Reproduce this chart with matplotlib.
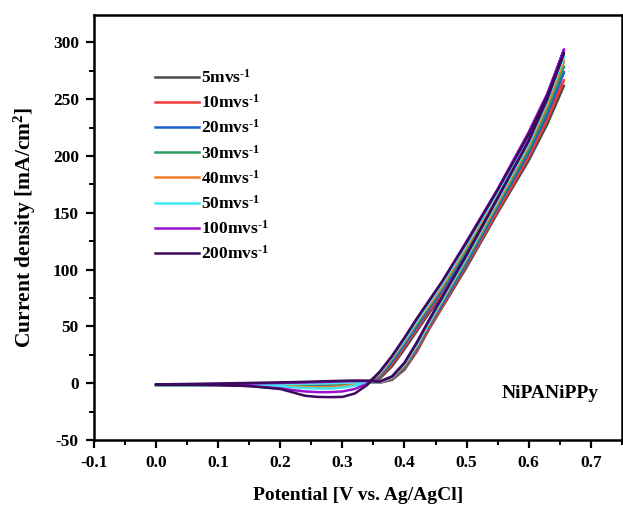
import matplotlib
matplotlib.use('Agg')
import matplotlib.pyplot as plt
from matplotlib.ticker import MultipleLocator
import numpy as np

plt.rcParams['font.family'] = ['Liberation Serif', 'DejaVu Serif']
plt.rcParams['font.weight'] = 'bold'
plt.rcParams['axes.unicode_minus'] = False
plt.rcParams['mathtext.fontset'] = 'custom'
plt.rcParams['mathtext.rm'] = 'Liberation Serif:bold'
plt.rcParams['mathtext.bf'] = 'Liberation Serif:bold'
plt.rcParams['mathtext.default'] = 'bf'

# potential grid (V vs Ag/AgCl)
potential = [0.00, 0.05, 0.10, 0.15, 0.20, 0.22, 0.24, 0.26, 0.28, 0.30, 0.32, 0.34,
             0.36, 0.38, 0.40, 0.42, 0.44, 0.46, 0.50, 0.55, 0.60, 0.63, 0.657]

scan_rates = ['5', '10', '20', '30', '40', '50', '100', '200']

# anodic (forward) branch, mA/cm2
forward = {
    '5':   [-1.5, -1.5, -1.4, -1.2, -1.0, -0.8, -0.6, -0.4, -0.2, 0.0, 0.2, 0.4,
            0.5, 3.0, 12, 28, 48, 66, 102, 150, 196, 228, 262],
    '10':  [-1.5, -1.5, -1.4, -1.2, -1.0, -0.9, -0.7, -0.5, -0.3, 0.0, 0.2, 0.5,
            0.6, 3.5, 13, 29, 49, 67, 104, 152, 199, 232, 267],
    '20':  [-1.5, -1.5, -1.4, -1.2, -1.0, -0.9, -0.7, -0.5, -0.3, 0.0, 0.3, 0.6,
            0.7, 4.0, 14, 31, 51, 69, 106, 155, 203, 237, 274],
    '30':  [-1.5, -1.5, -1.4, -1.2, -1.0, -0.8, -0.6, -0.4, -0.2, 0.1, 0.4, 0.7,
            0.8, 4.5, 15, 32, 52, 71, 108, 157, 206, 241, 279],
    '40':  [-1.5, -1.5, -1.4, -1.2, -0.9, -0.7, -0.5, -0.3, 0.0, 0.2, 0.5, 0.8,
            0.9, 5.0, 16, 33, 53, 72, 110, 159, 209, 245, 284],
    '50':  [-1.5, -1.5, -1.3, -1.1, -0.8, -0.6, -0.4, -0.2, 0.1, 0.4, 0.7, 1.0,
            1.0, 5.5, 17, 34, 54, 73, 111, 161, 211, 248, 288],
    '100': [-1.2, -1.0, -0.6, -0.2, 0.3, 0.5, 0.7, 1.0, 1.3, 1.6, 1.9, 2.0,
            1.3, 6.0, 18, 36, 56, 75, 113, 163, 214, 252, 294],
    '200': [-1.0, -0.6, -0.2, 0.3, 0.8, 1.0, 1.3, 1.6, 1.9, 2.2, 2.4, 2.3,
            1.5, 6.0, 18, 36, 56, 75, 113, 163, 213, 250, 291],
}

# cathodic (reverse) branch, mA/cm2
reverse = {
    '5':   [-1.5, -1.5, -1.5, -1.5, -1.4, -1.4, -1.4, -1.3, -1.2, -0.8, 0.0, 1.0,
            4, 15, 30, 46, 62, 77, 112, 157, 203, 234, 262],
    '10':  [-1.5, -1.5, -1.5, -1.6, -1.7, -1.8, -1.9, -1.9, -1.8, -1.3, -0.3, 1.0,
            5, 17, 32, 48, 64, 79, 114, 159, 206, 238, 267],
    '20':  [-1.5, -1.5, -1.6, -1.8, -2.0, -2.2, -2.4, -2.5, -2.4, -1.8, -0.6, 1.0,
            6, 19, 34, 50, 66, 81, 116, 161, 209, 242, 274],
    '30':  [-1.5, -1.5, -1.6, -1.9, -2.2, -2.5, -2.8, -3.0, -2.9, -2.3, -1.0, 0.8,
            7, 21, 36, 52, 68, 83, 118, 164, 212, 245, 279],
    '40':  [-1.5, -1.5, -1.7, -2.0, -2.5, -2.9, -3.3, -3.5, -3.4, -2.8, -1.3, 0.6,
            8, 22, 37, 54, 69, 85, 120, 166, 215, 248, 284],
    '50':  [-1.5, -1.5, -1.8, -2.2, -3.0, -3.6, -4.2, -4.6, -4.6, -3.8, -2.0, 0.3,
            9, 23, 38, 55, 71, 87, 122, 168, 217, 251, 288],
    '100': [-1.2, -1.3, -1.6, -2.4, -4.5, -6.0, -7.2, -7.8, -7.8, -7.2, -5.0, -0.5,
            10, 24, 40, 57, 73, 89, 125, 171, 221, 255, 294],
    '200': [-1.0, -1.1, -1.5, -2.5, -5.0, -8.0, -11.0, -12.0, -12.2, -12.0, -9.0, -1.5,
            10, 24, 40, 57, 73, 89, 124, 170, 219, 253, 291],
}

colors = ['#4a4a4a', '#ef3b36', '#1c5fd4', '#2a9d5c', '#f07d2a', '#3fe6f2', '#9a12cf', '#3b0a5c']

fig = plt.figure(figsize=(6.23, 5.07), dpi=100)
ax = fig.add_axes([0.151, 0.132, 0.847, 0.838])

E = np.array(potential)
for rate, c in zip(scan_rates, colors):
    x = np.concatenate([E, E[::-1]])
    y = np.concatenate([forward[rate], reverse[rate][::-1]])
    ax.plot(x, y, color=c, lw=1.8, solid_joinstyle='round',
            label=rate + r'mvs$^{\text{-}1}$')

ax.set_xlim(-0.1, 0.75)
ax.set_ylim(-50, 324)
ax.xaxis.set_major_locator(MultipleLocator(0.1))
ax.xaxis.set_minor_locator(MultipleLocator(0.05))
ax.yaxis.set_major_locator(MultipleLocator(50))
ax.yaxis.set_minor_locator(MultipleLocator(25))
ax.tick_params(which='major', direction='out', length=6, width=1.6, labelsize=12.5, pad=5)
ax.tick_params(which='minor', direction='out', length=3.5, width=1.4)
for s in ax.spines.values():
    s.set_linewidth(1.8)
ax.set_xticklabels([f'{v:.1f}' for v in ax.get_xticks()])

ax.set_xlabel('Potential [V vs. Ag/AgCl]', fontsize=14, fontweight='bold', labelpad=11)
ax.set_ylabel(r'Current density [mA/cm$^{2}$]', fontsize=15.5, fontweight='bold', labelpad=11)

ax.text(0.635, -9, 'NiPANiPPy', fontsize=14, fontweight='bold', ha='center', va='center')

leg = ax.legend(loc='upper left', bbox_to_anchor=(0.103, 0.89), frameon=False,
                fontsize=12.5, handlelength=2.5, handletextpad=0.1, labelspacing=0.42,
                borderaxespad=0)

fig.savefig('out.png', dpi=100)
